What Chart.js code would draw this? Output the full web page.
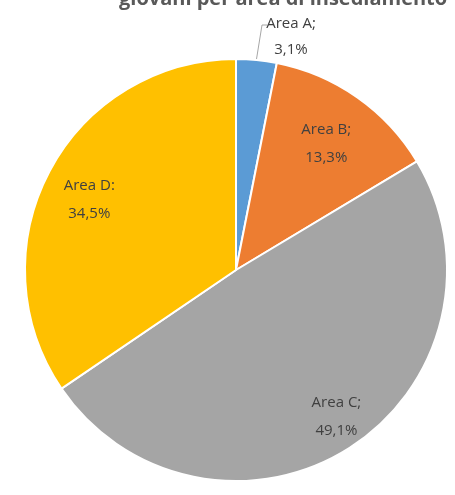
<!DOCTYPE html>
<html><head><meta charset="utf-8">
<script src="https://cdn.jsdelivr.net/npm/chart.js@4/dist/chart.umd.min.js"></script>
<style>html,body{margin:0;padding:0;background:#fff;}#wrap{width:455px;height:495px;position:relative;}</style>
</head><body>
<div id="wrap"><canvas id="c" width="455" height="495"></canvas></div>
<script>
const title = "giovani per area di insediamento";
const categories = ["Area A", "Area B", "Area C", "Area D"];
const values = [3.1, 13.3, 49.1, 34.5];
const separators = [";", ";", ";", ":"];
const colors = ["#5B9BD5", "#ED7D31", "#A5A5A5", "#FFC000"];
const labelRadius = [null, 0.737, 0.843, 0.771];
const labelAngleShift = [0, 0.4, -1.8, -2.3];

const labelPlugin = {
  id: 'labels',
  afterDraw(chart) {
    const ctx = chart.ctx;
    ctx.save();
    ctx.font = "bold 20px 'Open Sans', sans-serif";
    ctx.fillStyle = "#595959";
    ctx.textAlign = "left";
    ctx.textBaseline = "alphabetic";
    ctx.fillText(title, 119, 5);

    const meta = chart.getDatasetMeta(0);
    ctx.font = "15px 'Open Sans', sans-serif";
    ctx.fillStyle = "#404040";
    ctx.textAlign = "center";
    ctx.textBaseline = "middle";
    meta.data.forEach((arc, i) => {
      const p = arc.getProps(['x','y','startAngle','endAngle','outerRadius'], true);
      const mid = (p.startAngle + p.endAngle) / 2 + labelAngleShift[i] * Math.PI / 180;
      let lx, ly;
      const txt1 = categories[i] + separators[i];
      const txt2 = values[i].toFixed(1).replace('.', ',') + '%';
      if (i === 0) {
        lx = p.x + 55; ly = p.y - p.outerRadius - 24;
        const ax = p.x + Math.cos(mid) * p.outerRadius;
        const ay = p.y + Math.sin(mid) * p.outerRadius;
        ctx.strokeStyle = "#A6A6A6";
        ctx.lineWidth = 1;
        ctx.beginPath();
        ctx.moveTo(ax, ay - 1);
        ctx.lineTo(lx - 29, ly - 10);
        ctx.lineTo(lx - 24, ly - 10);
        ctx.stroke();
        ctx.fillText(txt1, lx, ly - 11);
        ctx.fillText(txt2, lx, ly + 15);
      } else {
        const r = p.outerRadius * labelRadius[i];
        lx = p.x + Math.cos(mid) * r;
        ly = p.y + Math.sin(mid) * r;
        ctx.fillText(txt1, lx, ly - 14);
        ctx.fillText(txt2, lx, ly + 14);
      }
    });
    ctx.restore();
  }
};

new Chart(document.getElementById('c'), {
  type: 'pie',
  data: {
    labels: categories,
    datasets: [{ data: values, backgroundColor: colors, borderColor: '#ffffff', borderWidth: 2 }]
  },
  options: {
    responsive: false,
    animation: false,
    layout: { padding: { left: 24, right: 7, top: 58, bottom: 13 } },
    plugins: { legend: { display: false }, tooltip: { enabled: false } }
  },
  plugins: [labelPlugin]
});
</script>
</body></html>
